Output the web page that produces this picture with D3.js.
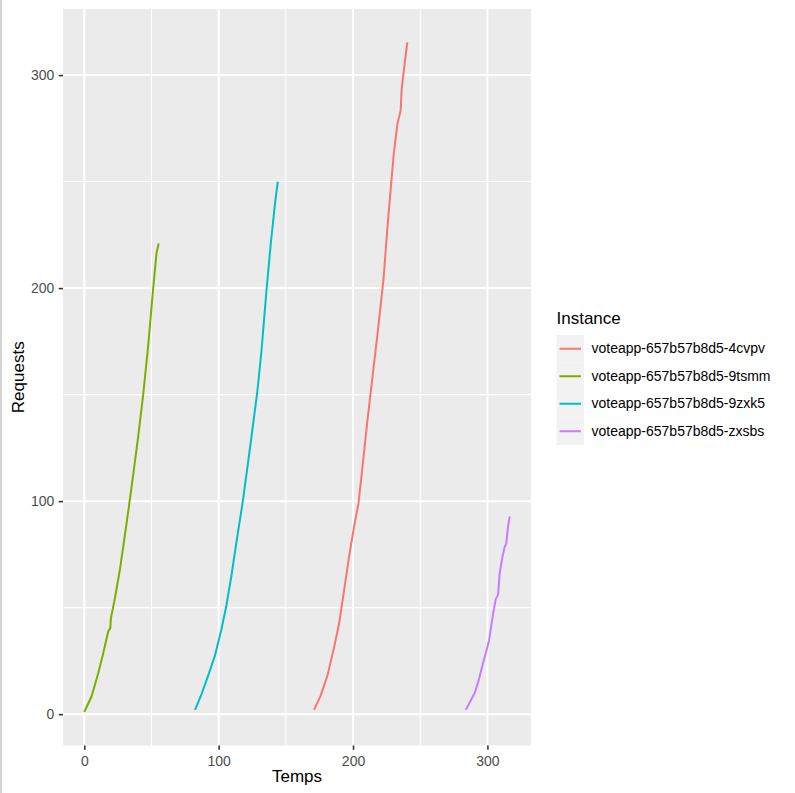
<!DOCTYPE html>
<html>
<head>
<meta charset="utf-8">
<script src="https://cdn.jsdelivr.net/npm/d3@7"></script>
<style>
  html, body { margin: 0; padding: 0; background: #ffffff; }
  svg { display: block; }
  text { font-family: "Liberation Sans", Arial, Helvetica, sans-serif; }
</style>
</head>
<body>
<script>
// ---------------- DATA ----------------
const instances = [
  "voteapp-657b57b8d5-4cvpv",
  "voteapp-657b57b8d5-9tsmm",
  "voteapp-657b57b8d5-9zxk5",
  "voteapp-657b57b8d5-zxsbs"
];

const temps4cvpv = [171, 176, 181, 185.9, 189.6, 193.3, 197, 200.7, 204, 207, 210.7, 214.4, 218.5, 222.8, 225.4, 228.5, 230.4, 233, 235.4, 236.2, 237.9, 240.4];
const req4cvpv   = [2, 8.8, 18.2, 31.4, 42.4, 58, 73.7, 87.8, 98.7, 115.9, 137.8, 158, 180, 205, 227, 250, 263.6, 277, 283.2, 293.4, 302.8, 315.3];

const temps9tsmm = [0, 5.4, 10.4, 14.1, 17.8, 19.4, 19.8, 22.8, 26.5, 29, 33.2, 36.4, 40.1, 43.8, 47.5, 50.5, 53.7, 55.4];
const req9tsmm   = [1, 8.3, 19.2, 28.6, 38.8, 40.5, 45, 54.4, 67.8, 78.6, 97.4, 112.3, 130.2, 149.8, 172.5, 194.4, 216.2, 221];

const temps9zxk5 = [82.4, 86.6, 92, 97, 102, 105.6, 109.4, 113.1, 118, 121.8, 125.5, 128.7, 131.8, 135.6, 138.8, 142, 144];
const req9zxk5   = [2, 8.3, 17.7, 27, 39.6, 50.5, 64.6, 80.2, 100, 117.7, 135.5, 151, 170, 199, 221, 240, 250];

const tempsZxsbs = [283.9, 287.6, 290.8, 293.8, 296.3, 299.3, 301.2, 302.5, 304.2, 306.2, 307.9, 309.1, 311.1, 312.8, 314, 315.3, 316.6];
const reqZxsbs   = [2, 6.4, 10.3, 16.6, 22.9, 29.9, 34.6, 40, 47, 54, 56, 66, 73.7, 78.4, 80, 87.8, 92.8];

const xTicks = [0, 100, 200, 300];
const yTicks = [0, 100, 200, 300];
const xTitle = "Temps";
const yTitle = "Requests";
const legendTitle = "Instance";

// ---------------- STYLE ----------------
const palette = ["#F8766D", "#7CAE00", "#00BFC4", "#C77CFF"];
const W = 795, H = 793;
const panel = { left: 63, right: 531, top: 9, bottom: 745.5 };
const tickFont = 14, titleFont = 17, legendFont = 14;
const lineW = 2.0, gridMajor = 2.0, gridMinor = 1.05, tickLen = 4.3;

const series = [
  { name: instances[0], t: temps4cvpv, r: req4cvpv },
  { name: instances[1], t: temps9tsmm, r: req9tsmm },
  { name: instances[2], t: temps9zxk5, r: req9zxk5 },
  { name: instances[3], t: tempsZxsbs, r: reqZxsbs }
];

const allT = series.flatMap(s => s.t);
const allR = series.flatMap(s => s.r);
function expand(ext) { const d = (ext[1] - ext[0]) * 0.05; return [ext[0] - d, ext[1] + d]; }

const x = d3.scaleLinear().domain(expand(d3.extent(allT))).range([panel.left, panel.right]);
const y = d3.scaleLinear().domain(expand(d3.extent(allR))).range([panel.bottom, panel.top]);
const color = d3.scaleOrdinal().domain(instances).range(palette);

const svg = d3.select("body").append("svg").attr("width", W).attr("height", H);

// left edge strip
svg.append("rect").attr("x", 0).attr("y", 0).attr("width", 2).attr("height", H).attr("fill", "#d4d4d4");

// panel background
svg.append("rect")
  .attr("x", panel.left).attr("y", panel.top)
  .attr("width", panel.right - panel.left).attr("height", panel.bottom - panel.top)
  .attr("fill", "#EBEBEB");

// grid
const xMinor = xTicks.slice(0, -1).map((v, i) => (v + xTicks[i + 1]) / 2);
xMinor.push(xTicks[xTicks.length - 1] + 50);
const yMinor = yTicks.slice(0, -1).map((v, i) => (v + yTicks[i + 1]) / 2);
yMinor.unshift(yTicks[0] - 50); yMinor.push(yTicks[yTicks.length - 1] + 50);
const gGrid = svg.append("g");
xMinor.filter(v => x(v) > panel.left && x(v) < panel.right).forEach(v => {
  gGrid.append("line").attr("x1", x(v)).attr("x2", x(v)).attr("y1", panel.top).attr("y2", panel.bottom)
    .attr("stroke", "#fff").attr("stroke-width", gridMinor);
});
yMinor.filter(v => y(v) > panel.top && y(v) < panel.bottom).forEach(v => {
  gGrid.append("line").attr("y1", y(v)).attr("y2", y(v)).attr("x1", panel.left).attr("x2", panel.right)
    .attr("stroke", "#fff").attr("stroke-width", gridMinor);
});
xTicks.forEach(v => {
  gGrid.append("line").attr("x1", x(v)).attr("x2", x(v)).attr("y1", panel.top).attr("y2", panel.bottom)
    .attr("stroke", "#fff").attr("stroke-width", gridMajor);
});
yTicks.forEach(v => {
  gGrid.append("line").attr("y1", y(v)).attr("y2", y(v)).attr("x1", panel.left).attr("x2", panel.right)
    .attr("stroke", "#fff").attr("stroke-width", gridMajor);
});

// lines
const line = d3.line().x(d => x(d[0])).y(d => y(d[1]));
series.forEach(s => {
  const pts = s.t.map((t, i) => [t, s.r[i]]);
  svg.append("path").datum(pts).attr("d", line)
    .attr("fill", "none").attr("stroke", color(s.name)).attr("stroke-width", lineW)
    .attr("stroke-linejoin", "round").attr("stroke-linecap", "butt");
});

// axes
const xAxis = d3.axisBottom(x).tickValues(xTicks).tickSize(tickLen).tickPadding(5.8);
const yAxis = d3.axisLeft(y).tickValues(yTicks).tickSize(tickLen).tickPadding(4.4);
const gx = svg.append("g").attr("transform", `translate(0,${panel.bottom})`).call(xAxis);
const gy = svg.append("g").attr("transform", `translate(${panel.left},0)`).call(yAxis);
[gx, gy].forEach(g => {
  g.select(".domain").remove();
  g.selectAll(".tick line").attr("stroke", "#333333").attr("stroke-width", 1.6);
  g.selectAll(".tick text").attr("fill", "#4D4D4D").attr("font-size", tickFont + "px")
    .attr("font-family", '"Liberation Sans", Arial, sans-serif');
});

// axis titles
svg.append("text").attr("x", (panel.left + panel.right) / 2).attr("y", 782)
  .attr("text-anchor", "middle").attr("font-size", titleFont + "px").attr("fill", "#000").text(xTitle);
svg.append("text").attr("transform", `translate(24,${(panel.top + panel.bottom) / 2}) rotate(-90)`)
  .attr("text-anchor", "middle").attr("font-size", titleFont + "px").attr("fill", "#000").text(yTitle);

// legend
const lg = svg.append("g").attr("transform", "translate(556.5,0)");
lg.append("text").attr("x", 0).attr("y", 324).attr("font-size", titleFont + "px").attr("fill", "#000").text(legendTitle);
const keyH = 27.5, keyTop = 335;
instances.forEach((name, i) => {
  const ky = keyTop + i * keyH;
  lg.append("rect").attr("x", 0).attr("y", ky).attr("width", 27.5).attr("height", keyH).attr("fill", "#F2F2F2");
  lg.append("line").attr("x1", 3).attr("x2", 24.5).attr("y1", ky + keyH / 2).attr("y2", ky + keyH / 2)
    .attr("stroke", color(name)).attr("stroke-width", lineW);
  lg.append("text").attr("x", 35).attr("y", ky + keyH / 2).attr("dy", "0.33em")
    .attr("font-size", legendFont + "px").attr("fill", "#000").text(name);
});
</script>
</body>
</html>
